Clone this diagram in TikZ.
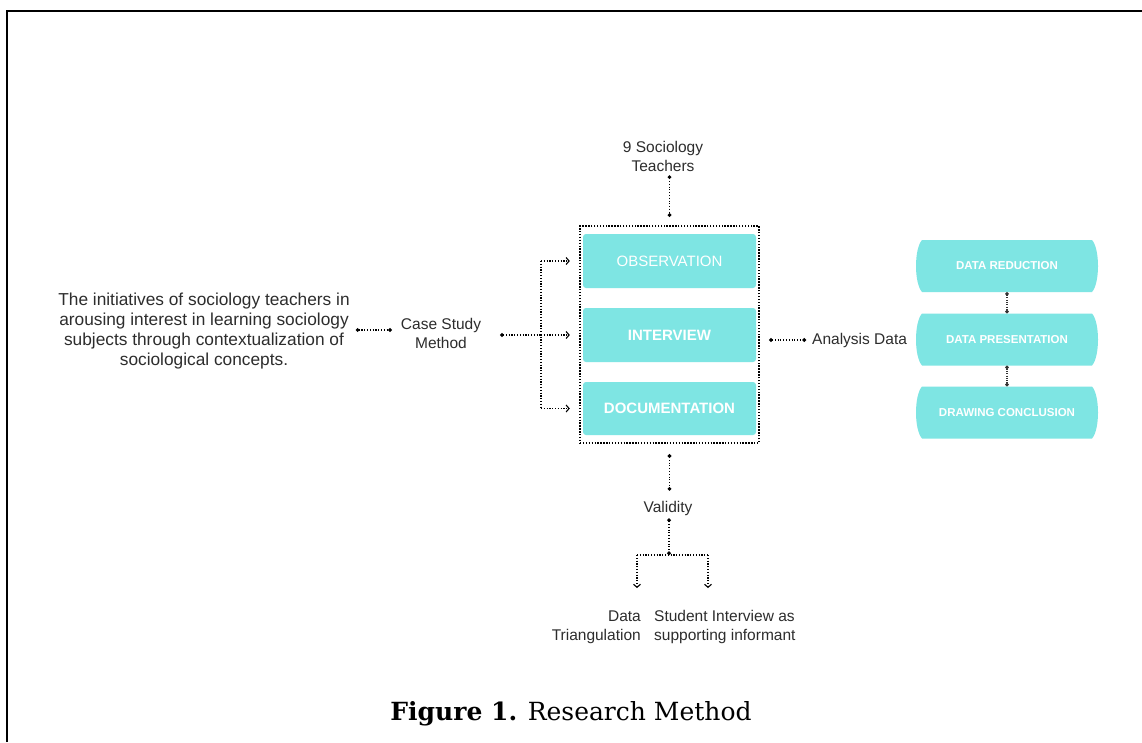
\documentclass[tikz,border=0pt]{standalone}
\usepackage{fontspec}
\setmainfont{DejaVu Serif}
\setsansfont{Liberation Sans}
\usetikzlibrary{arrows.meta}
\definecolor{boxteal}{RGB}{126,229,227}
\definecolor{inkgray}{RGB}{45,45,45}
\begin{document}
\begin{tikzpicture}[x=1pt,y=-1pt,
  lbl/.style={font=\sffamily\fontsize{15.5}{19}\selectfont, text=inkgray, align=center, inner sep=0pt},
  biglbl/.style={lbl, font=\sffamily\fontsize{17.3}{20}\selectfont},
  tealbox/.style={fill=boxteal, rounded corners=3pt, minimum width=173pt, minimum height=54pt, text=white, font=\sffamily\bfseries\fontsize{15}{17}\selectfont, inner sep=0pt},
  lightbox/.style={tealbox, font=\sffamily\fontsize{15}{17}\selectfont},
  stepname/.style={text=white, font=\sffamily\bfseries\fontsize{11.5}{13}\selectfont, inner sep=0pt, minimum width=176pt, minimum height=52pt},
  container/.style={draw=black, line width=2.4pt, dash pattern=on 1.4pt off 1.5pt, minimum width=179pt, minimum height=217pt, inner sep=0pt},
  dotline/.style={draw=black, line width=1.5pt, dash pattern=on 1.1pt off 1.7pt},
  thinline/.style={draw=black!80, line width=1.1pt, dash pattern=on 1pt off 1.3pt},
  enddots/.style={{Circle[length=3.5pt]}-{Circle[length=3.5pt]}},
  startdot/.style={{Circle[length=3.5pt]}-},
  barb/.style={-{Straight Barb[length=3pt,width=7pt,line width=1.1pt]}},
  frame/.style={draw=black, line width=2pt}
]
\useasboundingbox (0,0) rectangle (1142,742);
\fill[white] (0,0) rectangle (1142,742);
% frame
\draw[frame] (7,742) -- (7,11) -- (1142,11);

% nodes
\node[lbl] (teach) at (663,156) {9 Sociology\\Teachers};
\node[biglbl] (intro) at (204,331) {The initiatives of sociology teachers in\\arousing interest in learning sociology\\subjects through contextualization of\\sociological concepts.};
\node[lbl] (case) at (441,333) {Case Study\\Method};
\node[container] (grp) at (669.5,334.5) {};
\node[lightbox] (obs) at (669.5,261) {OBSERVATION};
\node[tealbox] (intv) at (669.5,335) {INTERVIEW};
\node[tealbox, minimum height=53pt] (doc) at (669.5,408.5) {DOCUMENTATION};
\node[lbl, anchor=west] (ana) at (812,340) {Analysis Data};
\node[lbl] (valid) at (668,508) {Validity};
\node[lbl, align=right, anchor=east] (tri) at (641,627) {Data\\Triangulation};
\node[lbl, align=left, anchor=west] (stud) at (654,627) {Student Interview as\\supporting informant};

% right step boxes (curved sides)
\foreach \cy in {266,339.5,412.5}{
  \fill[boxteal] (922,\cy-26) -- (1092,\cy-26)
     .. controls (1100,\cy-17) and (1100,\cy+17) .. (1092,\cy+26)
     -- (922,\cy+26)
     .. controls (914,\cy+17) and (914,\cy-17) .. (922,\cy-26) -- cycle;
}
\node[stepname] (r1) at (1007,266) {DATA REDUCTION};
\node[stepname] (r2) at (1007,339.5) {DATA PRESENTATION};
\node[stepname] (r3) at (1007,412.5) {DRAWING CONCLUSION};

\coordinate (jn) at (541,335);
\coordinate (split) at (669,555);
\coordinate (sl) at (637,555);
\coordinate (sr) at (708,555);

% connectors
\draw[dotline, enddots, shorten <=6pt, shorten >=9pt] (intro.east |- 0,330) -- (case.west |- 0,330);
\draw[dotline, enddots, shorten <=4pt, shorten >=8pt] (teach.south -| grp.north) -- (grp.north);
\draw[dotline, startdot, shorten <=19pt] (case.east |- jn) -- (jn);
\draw[dotline] (jn |- obs.west) -- (jn |- doc.west);
\draw[dotline, barb, shorten >=13pt] (jn |- obs.west) -- (obs.west);
\draw[dotline, barb, shorten >=13pt] (jn) -- (intv.west);
\draw[dotline, barb, shorten >=13pt] (jn |- doc.west) -- (doc.west);
\draw[dotline, enddots, shorten <=9pt, shorten >=6pt] (grp.east |- ana.west) -- (ana.west);
\draw[thinline, enddots] (r1.south) -- (r2.north);
\draw[thinline, enddots] (r2.south) -- (r3.north);
\draw[dotline, enddots, shorten <=10pt, shorten >=10pt] (grp.south) -- (valid.north -| grp.south);
\draw[dotline, enddots, shorten <=3pt] (valid.south -| split) -- (split);
\draw[dotline] (sl) -- (sr);
\draw[dotline, barb] (sl) -- (sl |- 0,588);
\draw[dotline, barb] (sr) -- (sr |- 0,588);

% caption
\node[font=\fontsize{25}{29}\selectfont, text=black, inner sep=0pt] (cap) at (571,714) {\textbf{Figure 1.} Research Method};
\end{tikzpicture}
\end{document}
